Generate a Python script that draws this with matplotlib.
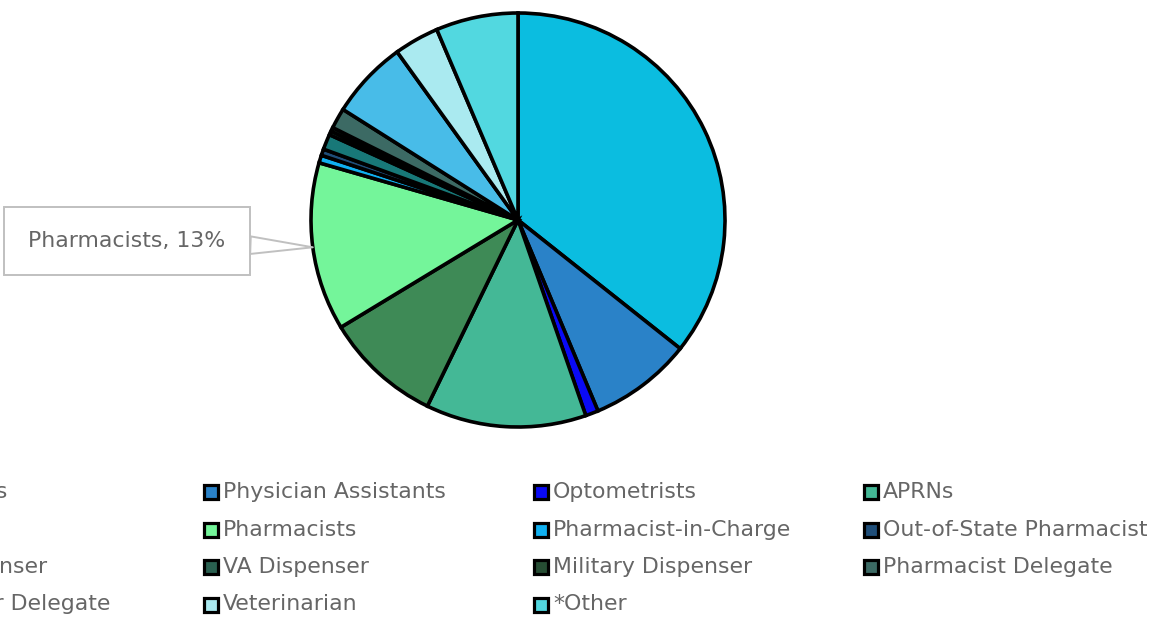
import matplotlib
matplotlib.use("Agg")
import matplotlib.pyplot as plt
import numpy as np
from matplotlib.patches import Rectangle

plt.rcParams['font.family'] = ['DejaVu Sans']

labels = ["Physicians", "Physician Assistants", "Optometrists", "APRNs",
          "Dentists", "Pharmacists", "Pharmacist-in-Charge", "Out-of-State Pharmacist",
          "IHS Dispenser", "VA Dispenser", "Military Dispenser", "Pharmacist Delegate",
          "Prescriber Delegate", "Veterinarian", "*Other"]
shares = [35.6, 8.0, 1.0, 12.5,
          9.1, 13.1, 0.6, 0.5,
          1.2, 0.3, 0.3, 1.6,
          6.1, 3.5, 6.4]
colors = ["#0bbde0", "#2a82c8", "#0a0af5", "#44b896",
          "#3e8a56", "#74f59a", "#10b0f0", "#1f4e79",
          "#187878", "#2a6050", "#264d33", "#3c6a64",
          "#48bce8", "#aaeaf0", "#52d8e0"]

W, H = 1173, 617
fig = plt.figure(figsize=(W / 100, H / 100), dpi=100)

# pie centred at (518, 220) px
cx, cy, r = 518, 220, 207
ax = fig.add_axes([(cx - r) / W, 1 - (cy + r) / H, 2 * r / W, 2 * r / H])
wedges, _ = ax.pie(shares, colors=colors, startangle=90, counterclock=False,
                   wedgeprops=dict(edgecolor="black", linewidth=2.6))
ax.set_xlim(-1, 1)
ax.set_ylim(-1, 1)
ax.set_aspect("equal")

txt_color = "#666666"
fs = 15.8

# callout for the Pharmacists slice
w = wedges[labels.index("Pharmacists")]
mid = np.deg2rad((w.theta1 + w.theta2) / 2)
pct = shares[labels.index("Pharmacists")] / sum(shares) * 100
ax.annotate(f"Pharmacists, {pct:.0f}%", xy=(np.cos(mid), np.sin(mid)),
            xytext=(127, H - 241), textcoords="figure pixels",
            ha="center", va="center", fontsize=fs, color=txt_color,
            bbox=dict(boxstyle="square,pad=1.1", fc="white", ec="#c0c0c0", lw=1.4),
            arrowprops=dict(arrowstyle="wedge,tail_width=0.8,shrink_factor=0.5",
                            fc="white", ec="#c0c0c0", lw=1.4,
                            shrinkA=0, shrinkB=0),
            annotation_clip=False)

# legend laid out row by row in four equal columns
col_x = -128
col_w = 330
row_y = 492
row_h = 37.5
sq = 14
for i, (lab, col) in enumerate(zip(labels, colors)):
    row, c = divmod(i, 4)
    x = col_x + c * col_w
    y = row_y + row * row_h
    fig.patches.append(Rectangle(((x + 2) / W, 1 - (y + sq / 2) / H), sq / W, sq / H,
                                 transform=fig.transFigure, fc=col, ec="black",
                                 lw=2.3, zorder=3))
    fig.text((x + 21) / W, 1 - y / H, lab, fontsize=fs, color=txt_color,
             ha="left", va="center")

fig.savefig("out.png", dpi=100)
